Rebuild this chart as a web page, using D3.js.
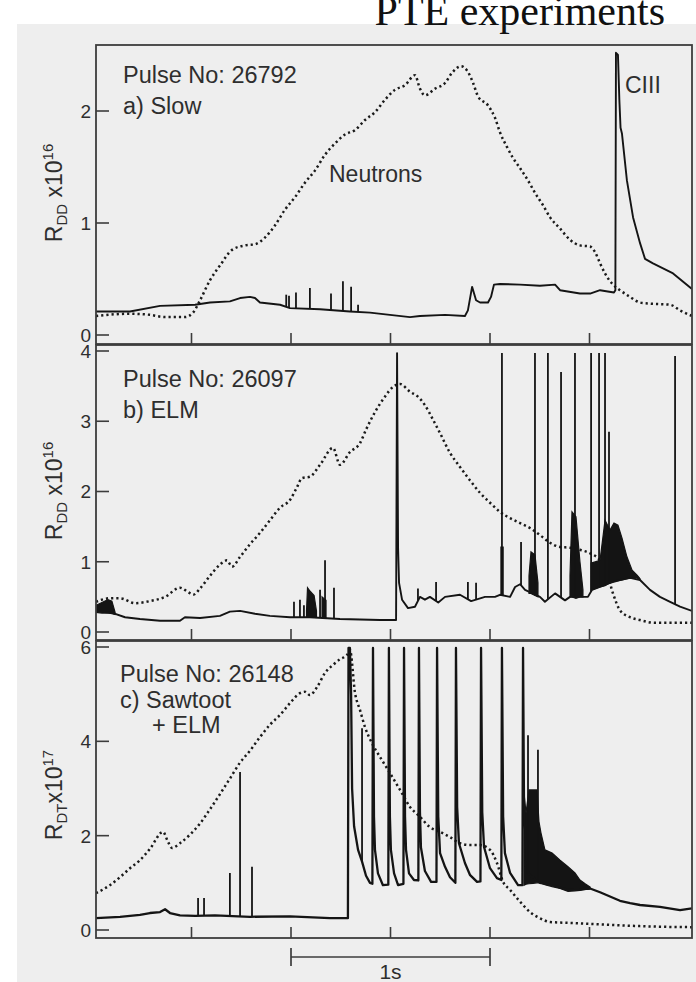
<!DOCTYPE html>
<html><head><meta charset="utf-8">
<script src="https://cdn.jsdelivr.net/npm/d3@7"></script>
<style>html,body{margin:0;padding:0;background:#fff;} svg{display:block;}</style>
</head><body>
<script>
// ---------------- DATA (time in s, values in units of the panel axis) ----------------
const tickTimes = [0.5, 1.0, 1.5, 2.0, 2.5];
const yTicksA = [0, 1, 2];
const yTicksB = [0, 1, 2, 3, 4];
const yTicksC = [0, 2, 4, 6];
const scaleBar = [1.0, 2.0];

// Panel a) Pulse 26792 (Slow) – CIII signal
const solidA = [[0.020,0.21],[0.191,0.21],[0.342,0.26],[0.518,0.27],[0.593,0.29],[0.693,0.30],[0.744,0.33],[0.794,0.34],[0.819,0.33],[0.844,0.29],[0.945,0.27],[0.995,0.24],[1.146,0.23],[1.296,0.21],[1.397,0.20],[1.497,0.18],[1.598,0.16],[1.648,0.17],[1.774,0.18],[1.874,0.17],[1.889,0.22],[1.910,0.43],[1.930,0.31],[1.950,0.29],[1.990,0.29],[2.005,0.34],[2.020,0.45],[2.050,0.455],[2.151,0.45],[2.251,0.44],[2.327,0.45],[2.352,0.40],[2.452,0.37],[2.503,0.37],[2.553,0.40],[2.623,0.38],[2.630,0.40],[2.633,2.52],[2.643,2.50],[2.650,2.10],[2.656,1.85],[2.663,1.80],[2.688,1.38],[2.719,1.05],[2.754,0.82],[2.779,0.68],[2.819,0.64],[2.920,0.55],[3.015,0.41]];
const spikesA = [[0.976,0.36],[0.990,0.35],[1.025,0.38],[1.095,0.42],[1.201,0.37],[1.261,0.48],[1.302,0.43],[1.337,0.27]];
const neutronsA = [[0.020,0.17],[0.191,0.19],[0.291,0.18],[0.367,0.16],[0.467,0.16],[0.508,0.20],[0.543,0.31],[0.593,0.49],[0.643,0.62],[0.704,0.76],[0.769,0.80],[0.819,0.81],[0.869,0.87],[0.920,0.98],[0.970,1.12],[1.020,1.23],[1.070,1.36],[1.121,1.47],[1.171,1.61],[1.221,1.71],[1.271,1.79],[1.322,1.83],[1.372,1.92],[1.422,1.99],[1.472,2.10],[1.523,2.19],[1.573,2.23],[1.623,2.32],[1.648,2.20],[1.673,2.14],[1.724,2.20],[1.774,2.25],[1.809,2.34],[1.854,2.40],[1.889,2.35],[1.915,2.25],[1.940,2.13],[1.990,2.05],[2.025,1.94],[2.050,1.81],[2.085,1.68],[2.116,1.58],[2.151,1.49],[2.191,1.38],[2.226,1.27],[2.266,1.16],[2.302,1.05],[2.352,0.95],[2.402,0.85],[2.452,0.80],[2.503,0.79],[2.528,0.74],[2.553,0.64],[2.578,0.55],[2.613,0.46],[2.653,0.40],[2.704,0.34],[2.754,0.29],[2.804,0.28],[2.905,0.27],[2.955,0.22],[3.015,0.17]];

// Panel b) Pulse 26097 (ELM)
const solidB = [[0.020,0.30],[0.106,0.27],[0.166,0.21],[0.241,0.185],[0.342,0.16],[0.442,0.16],[0.467,0.21],[0.543,0.20],[0.643,0.23],[0.693,0.29],[0.744,0.30],[0.819,0.26],[0.894,0.23],[0.995,0.21],[1.095,0.21],[1.246,0.185],[1.447,0.17],[1.528,0.17],[1.533,3.97],[1.538,1.20],[1.543,0.70],[1.558,0.46],[1.588,0.34],[1.623,0.36],[1.648,0.50],[1.673,0.46],[1.698,0.50],[1.740,0.42],[1.774,0.50],[1.849,0.53],[1.905,0.44],[1.975,0.50],[2.025,0.50],[2.050,0.53],[2.101,0.50],[2.126,0.64],[2.151,0.68],[2.176,0.60],[2.251,0.50],[2.276,0.43],[2.327,0.55],[2.377,0.45],[2.402,0.50],[2.492,0.50],[2.513,0.60],[2.603,0.70],[2.653,0.74],[2.704,0.77],[2.754,0.74],[2.804,0.60],[2.854,0.50],[2.905,0.43],[2.955,0.36],[3.015,0.30]];
const spikesB = [[1.015,0.43],[1.045,0.46],[1.065,0.38],[1.146,0.60],[1.171,1.02],[1.216,0.63],[1.638,0.62],[1.729,0.71],[1.889,0.71],[1.930,0.70],[2.060,3.97],[2.156,1.28],[2.226,3.97],[2.291,3.97],[2.357,3.70],[2.427,3.97],[2.508,3.97],[2.548,3.97],[2.578,3.97],[2.598,2.85],[2.930,3.93]];
const burstsB = [
  [[0.020,0.28,0.38],[0.050,0.27,0.42],[0.080,0.27,0.46],[0.100,0.26,0.44],[0.116,0.25,0.28]],
  [[1.078,0.21,0.30],[1.083,0.21,0.63],[1.096,0.21,0.58],[1.116,0.21,0.52],[1.128,0.21,0.30]],
  [[1.156,0.20,0.50],[1.176,0.20,0.45]],
  [[2.055,0.52,1.21],[2.066,0.52,1.21]],
  [[2.196,0.55,0.80],[2.206,0.55,1.14],[2.226,0.52,1.10],[2.241,0.50,0.70]],
  [[2.402,0.50,0.80],[2.412,0.50,1.71],[2.432,0.48,1.64],[2.452,0.50,1.00],[2.467,0.50,0.60]],
  [[2.508,0.60,0.98],[2.553,0.64,1.02],[2.578,0.66,1.59],[2.603,0.70,1.45],[2.623,0.72,1.55],[2.643,0.73,1.52],[2.663,0.74,1.34],[2.688,0.76,1.07],[2.714,0.77,0.88],[2.739,0.77,0.81],[2.754,0.74,0.76]]
];
const neutronsB = [[0.020,0.43],[0.090,0.48],[0.141,0.48],[0.216,0.41],[0.291,0.44],[0.367,0.50],[0.442,0.63],[0.482,0.57],[0.508,0.53],[0.543,0.62],[0.593,0.80],[0.643,0.96],[0.678,1.02],[0.704,0.93],[0.744,1.07],[0.794,1.25],[0.844,1.41],[0.894,1.59],[0.945,1.77],[0.995,1.88],[1.030,2.06],[1.055,2.19],[1.095,2.21],[1.146,2.38],[1.211,2.62],[1.246,2.38],[1.296,2.56],[1.347,2.69],[1.377,2.88],[1.422,3.13],[1.472,3.35],[1.513,3.49],[1.548,3.53],[1.598,3.42],[1.638,3.35],[1.673,3.23],[1.714,3.02],[1.749,2.83],[1.799,2.55],[1.849,2.35],[1.899,2.16],[1.950,1.98],[2.000,1.84],[2.050,1.71],[2.101,1.62],[2.151,1.55],[2.201,1.48],[2.251,1.38],[2.302,1.27],[2.352,1.21],[2.402,1.20],[2.452,1.17],[2.503,1.12],[2.553,1.02],[2.588,0.84],[2.618,0.55],[2.653,0.31],[2.704,0.21],[2.754,0.17],[2.829,0.13],[3.015,0.13]];

// Panel c) Pulse 26148 (Sawtooth + ELM), units 1e17
const solidC = [[0.020,0.25],[0.141,0.28],[0.241,0.32],[0.291,0.36],[0.342,0.38],[0.367,0.44],[0.392,0.36],[0.442,0.31],[0.518,0.30],[0.618,0.31],[0.794,0.28],[0.995,0.29],[1.196,0.25],[1.286,0.25],
  [1.289,5.98],[1.296,5.98],[1.302,5.00],[1.307,3.00],[1.317,2.20],[1.337,1.70],[1.357,1.45],[1.377,1.15],[1.397,1.00],[1.409,0.98],
  [1.412,5.98],[1.417,2.40],[1.422,1.70],[1.437,1.20],[1.462,0.95],[1.489,0.96],
  [1.492,5.98],[1.497,2.40],[1.502,1.70],[1.518,1.20],[1.538,0.95],[1.565,0.98],
  [1.568,5.98],[1.573,2.40],[1.578,1.70],[1.593,1.20],[1.618,1.06],[1.640,1.05],
  [1.643,5.98],[1.648,2.50],[1.653,1.75],[1.673,1.25],[1.704,1.02],[1.731,1.02],
  [1.734,5.98],[1.740,2.40],[1.749,1.63],[1.774,1.34],[1.799,1.12],[1.826,1.00],
  [1.829,5.98],[1.835,2.60],[1.844,1.84],[1.874,1.42],[1.899,1.17],[1.935,1.02],[1.952,1.03],
  [1.955,5.98],[1.961,2.50],[1.970,1.76],[2.000,1.31],[2.035,1.10],[2.057,1.06],
  [2.060,5.98],[2.066,2.40],[2.075,1.63],[2.101,1.21],[2.141,0.95],[2.163,0.95],
  [2.166,5.98],[2.171,2.50],[2.191,1.20],[2.251,1.00],[2.312,0.95],[2.392,0.85],[2.452,0.86],[2.503,0.88],[2.553,0.80],[2.653,0.62],[2.704,0.57],[2.754,0.53],[2.854,0.49],[2.955,0.42],[3.015,0.46]];
const spikesC = [[0.533,0.68],[0.563,0.68],[0.693,1.21],[0.744,3.35],[0.804,1.34],[1.357,4.28],[2.191,4.13],[2.241,3.82]];
const burstsC = [
  [[2.171,0.95,2.90],[2.181,0.97,2.48],[2.196,0.98,2.97],[2.216,0.99,2.97],[2.236,1.00,2.97],[2.246,1.00,2.30],[2.256,1.00,2.06],[2.276,0.96,1.70],[2.312,0.92,1.63],[2.352,0.88,1.48],[2.392,0.82,1.34],[2.427,0.83,1.21],[2.452,0.84,1.06],[2.478,0.86,0.98],[2.503,0.87,0.91]]
];
const neutronsC = [[0.020,0.78],[0.090,0.95],[0.141,1.12],[0.191,1.31],[0.241,1.48],[0.291,1.72],[0.357,2.08],[0.382,1.87],[0.402,1.74],[0.442,1.84],[0.492,2.02],[0.543,2.26],[0.593,2.56],[0.643,2.88],[0.693,3.21],[0.744,3.55],[0.794,3.80],[0.844,4.09],[0.894,4.35],[0.945,4.56],[0.995,4.81],[1.045,5.02],[1.070,5.05],[1.095,4.98],[1.131,5.15],[1.171,5.45],[1.211,5.62],[1.246,5.74],[1.281,5.83],[1.296,5.94],[1.322,5.02],[1.347,4.66],[1.372,4.30],[1.407,3.96],[1.447,3.67],[1.497,3.33],[1.548,2.97],[1.598,2.61],[1.648,2.40],[1.698,2.18],[1.749,2.08],[1.799,1.97],[1.849,1.84],[1.899,1.80],[1.950,1.80],[2.000,1.70],[2.035,1.42],[2.065,1.03],[2.101,0.85],[2.151,0.60],[2.201,0.38],[2.251,0.25],[2.302,0.17],[2.402,0.15],[2.553,0.12],[2.704,0.09],[2.854,0.07],[3.015,0.06]];

// ---------------- DRAWING ----------------
const W = 696, H = 982;
const SANS = "'Liberation Sans', Arial, Helvetica, sans-serif";
const INK = "#141414", FRAME = "#3c3c3c", TXT = "#2e2e2e";

const svg = d3.select("body").append("svg").attr("width", W).attr("height", H);
svg.append("rect").attr("width", W).attr("height", H).attr("fill", "#ffffff");
svg.append("rect").attr("x", 17).attr("y", 24).attr("width", W - 17).attr("height", H - 24).attr("fill", "#eeeeee");

svg.append("text").attr("x", 665).attr("y", 25).attr("text-anchor", "end")
  .attr("font-family", "'Liberation Serif', 'Times New Roman', serif").attr("font-size", 42)
  .attr("fill", "#111").text("PTE experiments");

const X0 = 96, X1 = 692;
const x = d3.scaleLinear().domain([0, 3]).range([92, 689]);

const panels = [
  { top: 45, bottom: 344, y: d3.scaleLinear().domain([0, 2]).range([335, 111]), ticks: yTicksA,
    solid: solidA, spikes: spikesA, bursts: [], neutrons: neutronsA, lw: 1.9,
    ylab: ["R", "DD", " x10", "16"], labY: 193,
    notes: [["Pulse No: 26792", 123, 83], ["a) Slow", 123, 114]] },
  { top: 345, bottom: 640, y: d3.scaleLinear().domain([0, 4]).range([632, 351]), ticks: yTicksB,
    solid: solidB, spikes: spikesB, bursts: burstsB, neutrons: neutronsB, lw: 1.9,
    ylab: ["R", "DD", " x10", "16"], labY: 491,
    notes: [["Pulse No: 26097", 123, 387], ["b) ELM", 123, 418]] },
  { top: 641, bottom: 938, y: d3.scaleLinear().domain([0, 6]).range([930, 647]), ticks: yTicksC,
    solid: solidC, spikes: spikesC, bursts: burstsC, neutrons: neutronsC, lw: 2.3,
    ylab: ["R", "DT", "x10", "17"], labY: 795,
    notes: [["Pulse No: 26148", 120, 682], ["c) Sawtoot", 120, 708], ["+ ELM", 152, 733]] }
];

function baseAt(series, t) {
  const i = d3.bisector(d => d[0]).left(series, t);
  if (i <= 0) return series[0][1];
  if (i >= series.length) return series[series.length - 1][1];
  const a = series[i - 1], b = series[i];
  return a[1] + (b[1] - a[1]) * (t - a[0]) / (b[0] - a[0]);
}

const defs = svg.append("defs");
panels.forEach((p, k) => {
  defs.append("clipPath").attr("id", "clip" + k).append("rect")
    .attr("x", X0).attr("y", p.top).attr("width", X1 - X0).attr("height", p.bottom - p.top);
  const g = svg.append("g");
  const plot = g.append("g").attr("clip-path", `url(#clip${k})`);
  const y = p.y;

  // neutrons (dotted)
  plot.append("path").datum(p.neutrons)
    .attr("d", d3.line().x(d => x(d[0])).y(d => y(d[1])).curve(d3.curveMonotoneX))
    .attr("fill", "none").attr("stroke", "#1a1a1a").attr("stroke-width", 2.5)
    .attr("stroke-dasharray", "2.2,3");

  // bursts (dense ELM activity)
  p.bursts.forEach(seg => {
    plot.append("path").datum(seg)
      .attr("d", d3.area().x(d => x(d[0])).y0(d => y(d[1])).y1(d => y(d[2])))
      .attr("fill", INK).attr("stroke", INK).attr("stroke-width", 1.2);
  });

  // main trace
  plot.append("path").datum(p.solid)
    .attr("d", d3.line().x(d => x(d[0])).y(d => y(d[1])))
    .attr("fill", "none").attr("stroke", INK).attr("stroke-width", p.lw).attr("stroke-linejoin", "round");

  // spikes
  plot.selectAll("line.sp").data(p.spikes).enter().append("line")
    .attr("x1", d => x(d[0])).attr("x2", d => x(d[0]))
    .attr("y1", d => y(baseAt(p.solid, d[0]))).attr("y2", d => y(d[1]))
    .attr("stroke", INK).attr("stroke-width", 1.8);

  // frame
  g.append("rect").attr("x", X0).attr("y", p.top).attr("width", X1 - X0).attr("height", p.bottom - p.top)
    .attr("fill", "none").attr("stroke", FRAME).attr("stroke-width", 1.8);

  // y ticks
  p.ticks.forEach(v => {
    g.append("line").attr("x1", X0).attr("x2", X0 + 13).attr("y1", y(v)).attr("y2", y(v))
      .attr("stroke", FRAME).attr("stroke-width", 1.6);
    g.append("text").attr("x", 91).attr("y", y(v)).attr("dy", "0.36em").attr("text-anchor", "end")
      .attr("font-family", SANS).attr("font-size", 19).attr("fill", TXT).text(v);
  });
  // x ticks
  tickTimes.forEach(t => {
    g.append("line").attr("x1", x(t)).attr("x2", x(t)).attr("y1", p.bottom).attr("y2", p.bottom - 11)
      .attr("stroke", FRAME).attr("stroke-width", 1.6);
  });

  // y label
  const yl = g.append("text").attr("transform", `translate(62,${p.labY}) rotate(-90)`)
    .attr("text-anchor", "middle").attr("font-family", SANS).attr("font-size", 23).attr("fill", TXT);
  yl.append("tspan").text(p.ylab[0]);
  yl.append("tspan").attr("font-size", 15).attr("dy", 5).text(p.ylab[1]);
  yl.append("tspan").attr("dy", -5).text(p.ylab[2]);
  yl.append("tspan").attr("font-size", 15).attr("dy", -9).text(p.ylab[3]);

  // notes
  p.notes.forEach(n => {
    g.append("text").attr("x", n[1]).attr("y", n[2]).attr("font-family", SANS).attr("font-size", 23.5)
      .attr("fill", TXT).text(n[0]);
  });
});

// series labels in panel a
svg.append("text").attr("x", 329).attr("y", 182).attr("font-family", SANS).attr("font-size", 23)
  .attr("fill", TXT).text("Neutrons");
svg.append("text").attr("x", 625).attr("y", 93).attr("font-family", SANS).attr("font-size", 23)
  .attr("fill", TXT).text("CIII");

// scale bar
const sb = svg.append("g").attr("stroke", FRAME).attr("stroke-width", 1.7);
sb.append("line").attr("x1", x(scaleBar[0])).attr("x2", x(scaleBar[1])).attr("y1", 957).attr("y2", 957);
scaleBar.forEach(t => sb.append("line").attr("x1", x(t)).attr("x2", x(t)).attr("y1", 948).attr("y2", 966));
svg.append("text").attr("x", x((scaleBar[0] + scaleBar[1]) / 2)).attr("y", 979).attr("text-anchor", "middle")
  .attr("font-family", SANS).attr("font-size", 21).attr("fill", TXT).text("1s");
</script>
</body></html>
